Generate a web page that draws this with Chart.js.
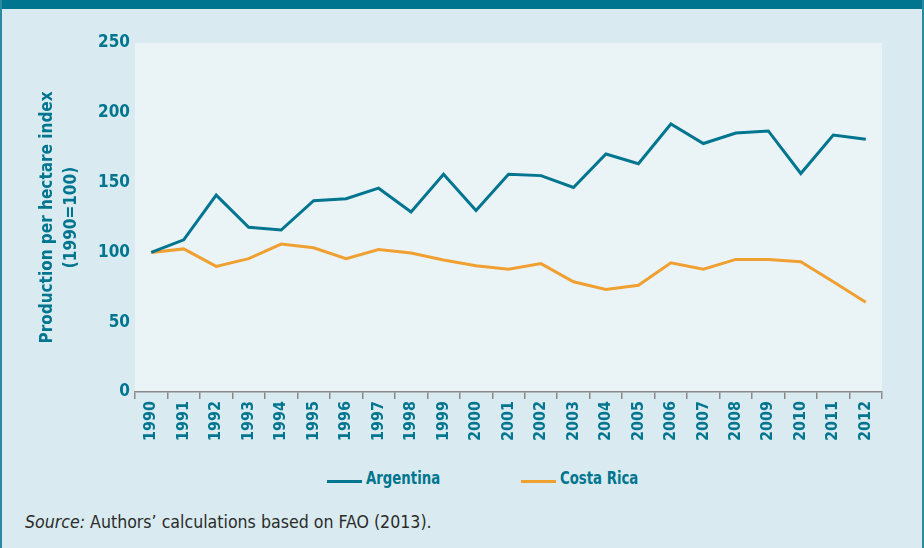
<!DOCTYPE html>
<html>
<head>
<meta charset="utf-8">
<script src="https://cdn.jsdelivr.net/npm/chart.js@4"></script>
<style>
  html, body { margin: 0; padding: 0; background: #d9ebf0; }
  #frame {
    position: relative; width: 924px; height: 548px; overflow: hidden;
    background: #d9ebf0; box-sizing: border-box;
    border-left: 2px solid #2a8aa3; border-right: 2px solid #2a8aa3;
  }
  #topbar { position: absolute; left: -2px; top: 0; width: 924px; height: 9px; background: #00758f; }
  #chartBox { position: absolute; left: -2px; top: 0; width: 924px; height: 460px; }
  .legend { position: absolute; top: 467px; font: bold 18px "DejaVu Sans Condensed", sans-serif; color: #00758f; }
  .legend span.swatch { position: absolute; top: 13px; width: 35px; height: 3px; }
  .legend span.label { position: absolute; left: 39px; top: 0; white-space: nowrap; transform: scaleX(0.82); transform-origin: left center; }
  #source { position: absolute; left: 23px; top: 512px; font: 17.6px "DejaVu Sans Condensed", sans-serif; color: #2b2b2b; white-space: nowrap; }
</style>
</head>
<body>
<div id="frame">
  <div id="topbar"></div>
  <div id="chartBox"><canvas id="lineChart"></canvas></div>
  <div class="legend" style="left:325px"><span class="swatch" style="background:#00758f"></span><span class="label">Argentina</span></div>
  <div class="legend" style="left:519px"><span class="swatch" style="background:#f0a030"></span><span class="label">Costa Rica</span></div>
  <div id="source"><i>Source:</i> Authors’ calculations based on FAO (2013).</div>
</div>
<script>
const years = ["1990","1991","1992","1993","1994","1995","1996","1997","1998","1999","2000","2001",
  "2002","2003","2004","2005","2006","2007","2008","2009","2010","2011","2012"];
const argentina = [100, 109, 141, 118, 116, 137, 138.5, 146, 129, 156, 130, 156,
  155, 146.5, 170.5, 163.5, 192, 178, 185.5, 187, 156.5, 184, 181];
const costaRica = [100, 102.5, 90, 95.5, 106, 103.3, 95.5, 102, 99.5, 94.5, 90.5, 88,
  92, 79, 73.5, 76.5, 92.5, 88, 95, 95, 93.3, 79, 64.3];
const yTicks = [0, 50, 100, 150, 200, 250];

const TEAL = "#00758f";
const ORANGE = "#f0a030";
const FONT = "'DejaVu Sans Condensed', sans-serif";

// fill the plot area with the lighter panel colour
const plotBg = {
  id: "plotBg",
  beforeDraw(chart) {
    const { ctx, chartArea: a } = chart;
    ctx.save();
    ctx.fillStyle = "#eaf4f7";
    ctx.fillRect(a.left, a.top, a.right - a.left, a.bottom - a.top);
    ctx.restore();
  },
};

new Chart(document.getElementById("lineChart"), {
  type: "line",
  data: {
    labels: years,
    datasets: [
      { label: "Argentina", data: argentina, borderColor: TEAL, borderWidth: 3, pointRadius: 0, tension: 0 },
      { label: "Costa Rica", data: costaRica, borderColor: ORANGE, borderWidth: 3, pointRadius: 0, tension: 0 },
    ],
  },
  options: {
    responsive: true,
    maintainAspectRatio: false,
    animation: false,
    layout: { padding: { left: 0, top: 43, right: 42, bottom: 0 } },
    plugins: { legend: { display: false }, tooltip: { enabled: false } },
    scales: {
      x: {
        offset: true,
        grid: { offset: true, drawOnChartArea: false, drawTicks: true, tickLength: 7, color: "#8a8a8a", lineWidth: 1.5 },
        border: { display: true, color: "#8a8a8a", width: 1.5 },
        ticks: {
          color: TEAL, minRotation: 90, maxRotation: 90, autoSkip: false, padding: 2,
          font: { family: FONT, size: 16, weight: "bold" },
        },
        afterFit(scale) { scale.height = 68; },
      },
      y: {
        min: 0, max: 250,
        afterBuildTicks(scale) { scale.ticks = yTicks.map((v) => ({ value: v })); },
        grid: { display: false, drawTicks: false },
        border: { display: false },
        ticks: { color: TEAL, padding: 5, font: { family: FONT, size: 17, weight: "bold" } },
        title: {
          display: true,
          text: ["Production per hectare index", "(1990=100)"],
          color: TEAL,
          padding: { top: 36, bottom: 0 },
          font: { family: FONT, size: 17, weight: "bold", lineHeight: 1.4 },
        },
        afterFit(scale) { scale.width = 135; },
      },
    },
  },
  plugins: [plotBg],
});
</script>
</body>
</html>
